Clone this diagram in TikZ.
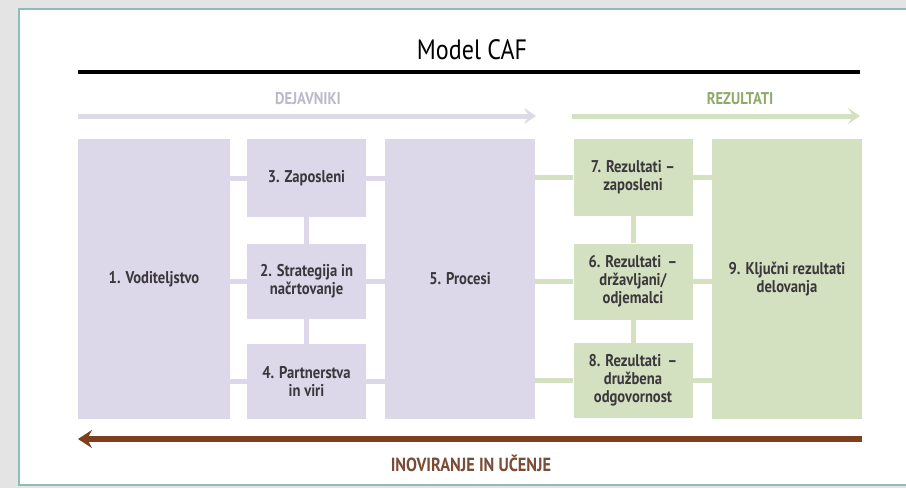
\documentclass[tikz,border=0pt]{standalone}
\usepackage{fontspec}
\setmainfont{PT Sans}[FakeStretch=0.86]
\usetikzlibrary{arrows.meta}
\definecolor{pagegray}{HTML}{E4E4E4}
\definecolor{panelrim}{HTML}{8DBDBA}
\definecolor{lilac}{HTML}{DDD7EA}
\definecolor{sage}{HTML}{D4E1C0}
\definecolor{boxtext}{HTML}{3A383C}
\definecolor{lilactext}{HTML}{BDB8CC}
\definecolor{lilacarrow}{HTML}{DCDAE6}
\definecolor{sagetext}{HTML}{8EAA68}
\definecolor{sagearrow}{HTML}{D5E2C2}
\definecolor{rust}{HTML}{7E3F1E}
\definecolor{rusttext}{HTML}{7A4B36}
\tikzset{
  box/.style={inner sep=2pt, align=center, text=boxtext,
    font=\fontsize{17}{18}\selectfont\bfseries},
  pbox/.style={box, fill=lilac},
  gbox/.style={box, fill=sage},
  pline/.style={draw=lilac, line width=5pt},
  gline/.style={draw=sage, line width=5pt},
  headlabel/.style={font=\fontsize{17}{19}\selectfont\bfseries},
}
\begin{document}
\begin{tikzpicture}[x=1pt,y=-1pt]
  % page and panel
  \fill[pagegray] (0,0) rectangle (906,488);
  \useasboundingbox (0,0) rectangle (906,488);
  \filldraw[fill=white, draw=panelrim, line width=1.4pt] (19,9) rectangle (912,485);

  % title and rule
  \node[font=\fontsize{28}{32}\selectfont, text=black] (title) at (472,50) {Model CAF};
  \coordinate (ruleL) at (78,72);
  \coordinate (ruleR) at (860,72);
  \draw[line width=4pt] (ruleL) -- (ruleR);

  % section headers
  \node[headlabel, text=lilactext] (dej) at (308,99) {DEJAVNIKI};
  \node[headlabel, text=sagetext] (rez) at (740,99) {REZULTATI};
  \coordinate (dejL) at (78,116);
  \coordinate (dejR) at (536,116);
  \coordinate (rezL) at (572,116);
  \coordinate (rezR) at (860,116);
  \draw[lilacarrow, line width=5pt, -{Stealth[length=12pt, width=16pt, inset=5pt]}] (dejL) -- (dejR);
  \draw[sagearrow, line width=5pt, -{Stealth[length=12pt, width=16pt, inset=5pt]}] (rezL) -- (rezR);

  % enablers
  \node[pbox, minimum width=152, minimum height=280] (b1) at (154,279) {1. Voditeljstvo};
  \node[pbox, minimum width=119, minimum height=78] (b3) at (306.5,178) {3. Zaposleni};
  \node[pbox, minimum width=119, minimum height=75] (b2) at (306.5,281.5) {2. Strategija in\\načrtovanje};
  \node[pbox, minimum width=119, minimum height=75] (b4) at (306.5,381.5) {4. Partnerstva\\in viri};
  \node[pbox, minimum width=150, minimum height=280] (b5) at (460,279) {5. Procesi};

  % results
  \node[gbox, minimum width=119, minimum height=77] (b7) at (633,177.5) {7. Rezultati –\\zaposleni};
  \node[gbox, minimum width=119, minimum height=76] (b6) at (633,281.5) {6. Rezultati \,–\\državljani/\\odjemalci};
  \node[gbox, minimum width=119, minimum height=75] (b8) at (633,380.5) {8. Rezultati \,–\\družbena\\odgovornost};
  \node[gbox, minimum width=150, minimum height=280] (b9) at (787,279) {9. Ključni rezultati\\delovanja};

  % links between enablers
  \foreach \n in {b3,b2,b4}{
    \draw[pline] (b1.east |- \n) -- (\n.west);
    \draw[pline] (\n.east) -- (b5.west |- \n);
  }
  \draw[pline] (b3.south) -- (b2.north);
  \draw[pline] (b2.south) -- (b4.north);

  % links between results
  \foreach \n in {b7,b6,b8}{
    \draw[gline] (b5.east |- \n) -- (\n.west);
    \draw[gline] (\n.east) -- (b9.west |- \n);
  }
  \draw[gline] (b7.south) -- (b6.north);
  \draw[gline] (b6.south) -- (b8.north);

  % feedback arrow
  \coordinate (innR) at (862,439);
  \coordinate (innL) at (78,439);
  \draw[rust, line width=6pt, -{Stealth[length=14pt, width=18pt, inset=5pt]}] (innR) -- (innL);
  \node[text=rusttext, font=\fontsize{19}{21}\selectfont\bfseries] (inn) at (471,463) {INOVIRANJE IN UČENJE};
\end{tikzpicture}
\end{document}
